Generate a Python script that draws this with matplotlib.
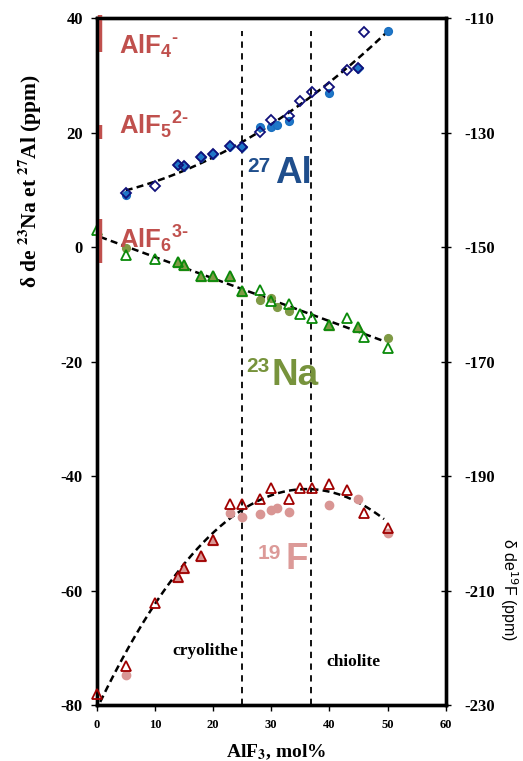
import numpy as np
import matplotlib
matplotlib.use("Agg")
import matplotlib.pyplot as plt

plt.rcParams['mathtext.fontset'] = 'custom'
plt.rcParams['mathtext.rm'] = 'Liberation Sans:bold'
plt.rcParams['mathtext.bf'] = 'Liberation Sans:bold'
plt.rcParams['mathtext.it'] = 'Liberation Sans:bold'

# ---------------- data ----------------
# 27Al
al_circ_x = [5, 28, 30, 31, 33, 40, 50]
al_circ_y = [9.1, 21.0, 21.1, 21.3, 22.1, 27.0, 37.9]
al_fdiam_x = [14, 15, 18, 20, 23, 25, 45]
al_fdiam_y = [14.4, 14.2, 15.8, 16.3, 17.7, 17.6, 31.3]
al_odiam_x = [5, 10, 14, 15, 18, 20, 23, 25, 28, 30, 33, 35, 37, 40, 43, 45, 46]
al_odiam_y = [9.5, 10.8, 14.4, 14.2, 15.8, 16.3, 17.7, 17.6, 20.1, 22.2, 22.9,
              25.6, 27.2, 28.1, 31.0, 31.3, 37.7]

# 23Na
na_otri_x = [0, 5, 10, 14, 15, 18, 20, 23, 25, 28, 30, 33, 35, 37, 40, 43, 45, 46, 50]
na_otri_y = [3.0, -1.4, -2.1, -2.5, -3.1, -5.0, -5.0, -5.0, -7.6, -7.4, -9.4, -9.9,
             -11.7, -12.3, -13.6, -12.3, -14.0, -15.7, -17.6]
na_ftri_x = [14, 15, 18, 20, 23, 25, 40, 45]
na_ftri_y = [-2.5, -3.1, -5.0, -5.0, -5.0, -7.6, -13.6, -14.0]
na_circ_x = [5, 28, 30, 31, 33, 50]
na_circ_y = [-0.1, -9.2, -8.8, -10.4, -11.2, -15.9]

# 19F (right axis)
f_otri_x = [0, 5, 10, 14, 15, 18, 20, 23, 25, 28, 30, 33, 35, 37, 40, 43, 46, 50]
f_otri_y = [-228.0, -223.2, -212.1, -207.6, -206.1, -204.0, -201.1, -194.9, -194.9,
            -194.0, -192.0, -194.0, -192.0, -192.0, -191.3, -192.5, -196.5, -199.0]
f_ftri_x = [14, 15, 18, 20]
f_ftri_y = [-207.6, -206.1, -204.0, -201.1]
f_circ_x = [5, 23, 25, 28, 30, 31, 33, 40, 45, 50]
f_circ_y = [-224.8, -196.4, -197.1, -196.7, -196.0, -195.6, -196.3, -195.1, -194.0, -200.0]

phase_x = [25, 36.8]
phase_names = ['cryolithe', 'chiolite']

species_labels = ['AlF$_{4}$$^{\u2010}$', 'AlF$_{5}$$^{2\u2010}$', 'AlF$_{6}$$^{3\u2010}$']
species_ranges = [(34.2, 40.6), (18.9, 21.4), (-2.8, 5.0)]

x_ticks = [0, 10, 20, 30, 40, 50, 60]
left_ticks = [-80, -60, -40, -20, 0, 20, 40]
right_ticks = [-230, -210, -190, -170, -150, -130, -110]

# ---------------- figure ----------------
fig = plt.figure(figsize=(5.23, 7.61), dpi=100)
ax = fig.add_axes([0.18489, 0.07359, 0.6673, 0.9021])
ax2 = ax.twinx()

ax.set_xlim(0, 60)
ax.set_ylim(-80, 40)
ax2.set_ylim(-230, -110)

serif = 'Liberation Serif'
sans = 'Liberation Sans'

# phase lines
for xv in phase_x:
    ax.plot([xv, xv], [-80, 37.8], color='black', lw=1.3, dashes=(3.5, 3.0), zorder=1)

# trend lines (quadratic fits on the data)
dash = dict(color='black', lw=1.8, dashes=(2.8, 1.7), zorder=2)
xa = np.array(al_odiam_x + al_circ_x, float); ya = np.array(al_odiam_y + al_circ_y)
pa = np.polyfit(xa, ya, 2)
xs = np.linspace(5, 50, 200)
ax.plot(xs, np.polyval(pa, xs), **dash)

xn = np.array(na_otri_x + na_circ_x, float); yn = np.array(na_otri_y + na_circ_y)
pn = np.polyfit(xn, yn, 2)
xs = np.linspace(0.6, 49.4, 200)
ax.plot(xs, np.polyval(pn, xs), **dash)

pf = np.polyfit(np.array(f_otri_x, float), np.array(f_otri_y), 2)
xs = np.linspace(0.6, 49.4, 200)
ax2.plot(xs, np.polyval(pf, xs), **dash)

# markers
ax.plot(al_circ_x, al_circ_y, 'o', color='#1f77c9', ms=5.6, mec='#1a6fc0', zorder=3, clip_on=False)
ax.plot(al_fdiam_x, al_fdiam_y, 'D', color='#1f77c9', ms=5.3, mec='#1a6fc0', zorder=3)
ax.plot(al_odiam_x, al_odiam_y, 'D', mfc='none', mec='#10107a', mew=1.3, ms=5.3, zorder=4)

ax.plot(na_circ_x, na_circ_y, 'o', color='#7f9a45', ms=5.6, zorder=3)
ax.plot(na_ftri_x, na_ftri_y, '^', color='#7f9a45', ms=7, zorder=3)
ax.plot(na_otri_x, na_otri_y, '^', mfc='none', mec='#0a8a0a', mew=1.3, ms=7, zorder=4, clip_on=False)

ax2.plot(f_circ_x, f_circ_y, 'o', color='#d99694', ms=6, zorder=3)
ax2.plot(f_ftri_x, f_ftri_y, '^', color='#d99694', ms=7, zorder=3)
ax2.plot(f_otri_x, f_otri_y, '^', mfc='none', mec='#a00000', mew=1.3, ms=7, zorder=4, clip_on=False)

# species bars and labels
for (lo, hi), lab in zip(species_ranges, species_labels):
    ax.plot([0.65, 0.65], [lo, hi], color='#c0504d', lw=3.2, solid_capstyle='butt',
            clip_on=False, zorder=5)
for lab, yb in zip(species_labels, [33.9, 19.8, -0.2]):
    ax.text(3.9, yb, lab, color='#c0504d', fontsize=18.5, fontweight='bold', family=sans,
            math_fontfamily='custom', ha='left', va='baseline', zorder=6)

# isotope labels
def iso(xsup, ysup, sup, xm, ym, main, color):
    ax.text(xsup, ysup, sup, color=color, fontsize=15, fontweight='bold', family=sans,
            ha='left', va='baseline', zorder=6)
    ax.text(xm, ym, main, color=color, fontsize=26.5, fontweight='bold', family=sans,
            ha='left', va='baseline', zorder=6)

iso(25.8, 13.15, '27', 30.7, 11.2, 'Al', '#1f4e8c')
iso(25.7, -21.8, '23', 30.1, -24.1, 'Na', '#77933c')
iso(27.7, -54.4, '19', 32.4, -56.2, 'F', '#dc9a98')

# phase names
ax.text(18.7, -71.3, phase_names[0], fontsize=12.5, fontweight='bold', family=serif,
        ha='center', va='baseline')
ax.text(44.1, -73.1, phase_names[1], fontsize=12.5, fontweight='bold', family=serif,
        ha='center', va='baseline')

# axes styling
for a in (ax, ax2):
    for s in a.spines.values():
        s.set_linewidth(2.4)
ax.set_xticks(x_ticks)
ax.set_yticks(left_ticks)
ax2.set_yticks(right_ticks)
ax.set_xticklabels([str(v) for v in x_ticks], fontsize=9, fontweight='bold', family=serif)
ax.set_yticklabels([str(v) for v in left_ticks], fontsize=12, fontweight='bold', family=serif)
ax2.set_yticklabels([str(v) for v in right_ticks], fontsize=12, fontweight='bold', family=serif)
ax.tick_params(axis='y', direction='out', length=4, width=1, pad=6)
ax.tick_params(axis='x', direction='out', length=4, width=1, pad=6)
ax2.tick_params(axis='y', direction='inout', length=7, width=1, pad=10)

# axis titles
fig.text(0.0574, 0.7624, r'δ de $^{\mathbf{23}}$Na et $^{\mathbf{27}}$Al (ppm)', rotation=90,
         fontsize=15.5, fontweight='bold', family=serif, math_fontfamily='stix',
         ha='center', va='center')
fig.text(0.972, 0.2247, r'δ de$^{19}$F (ppm)', rotation=270, fontsize=11.5, family=sans,
         math_fontfamily='dejavusans', ha='center', va='center')
fig.text(0.5277, 0.005, r'AlF$_{\mathbf{3}}$, mol%', fontsize=14, fontweight='bold', family=serif,
         math_fontfamily='stix', ha='center', va='baseline')

fig.savefig('out.png', dpi=100)
